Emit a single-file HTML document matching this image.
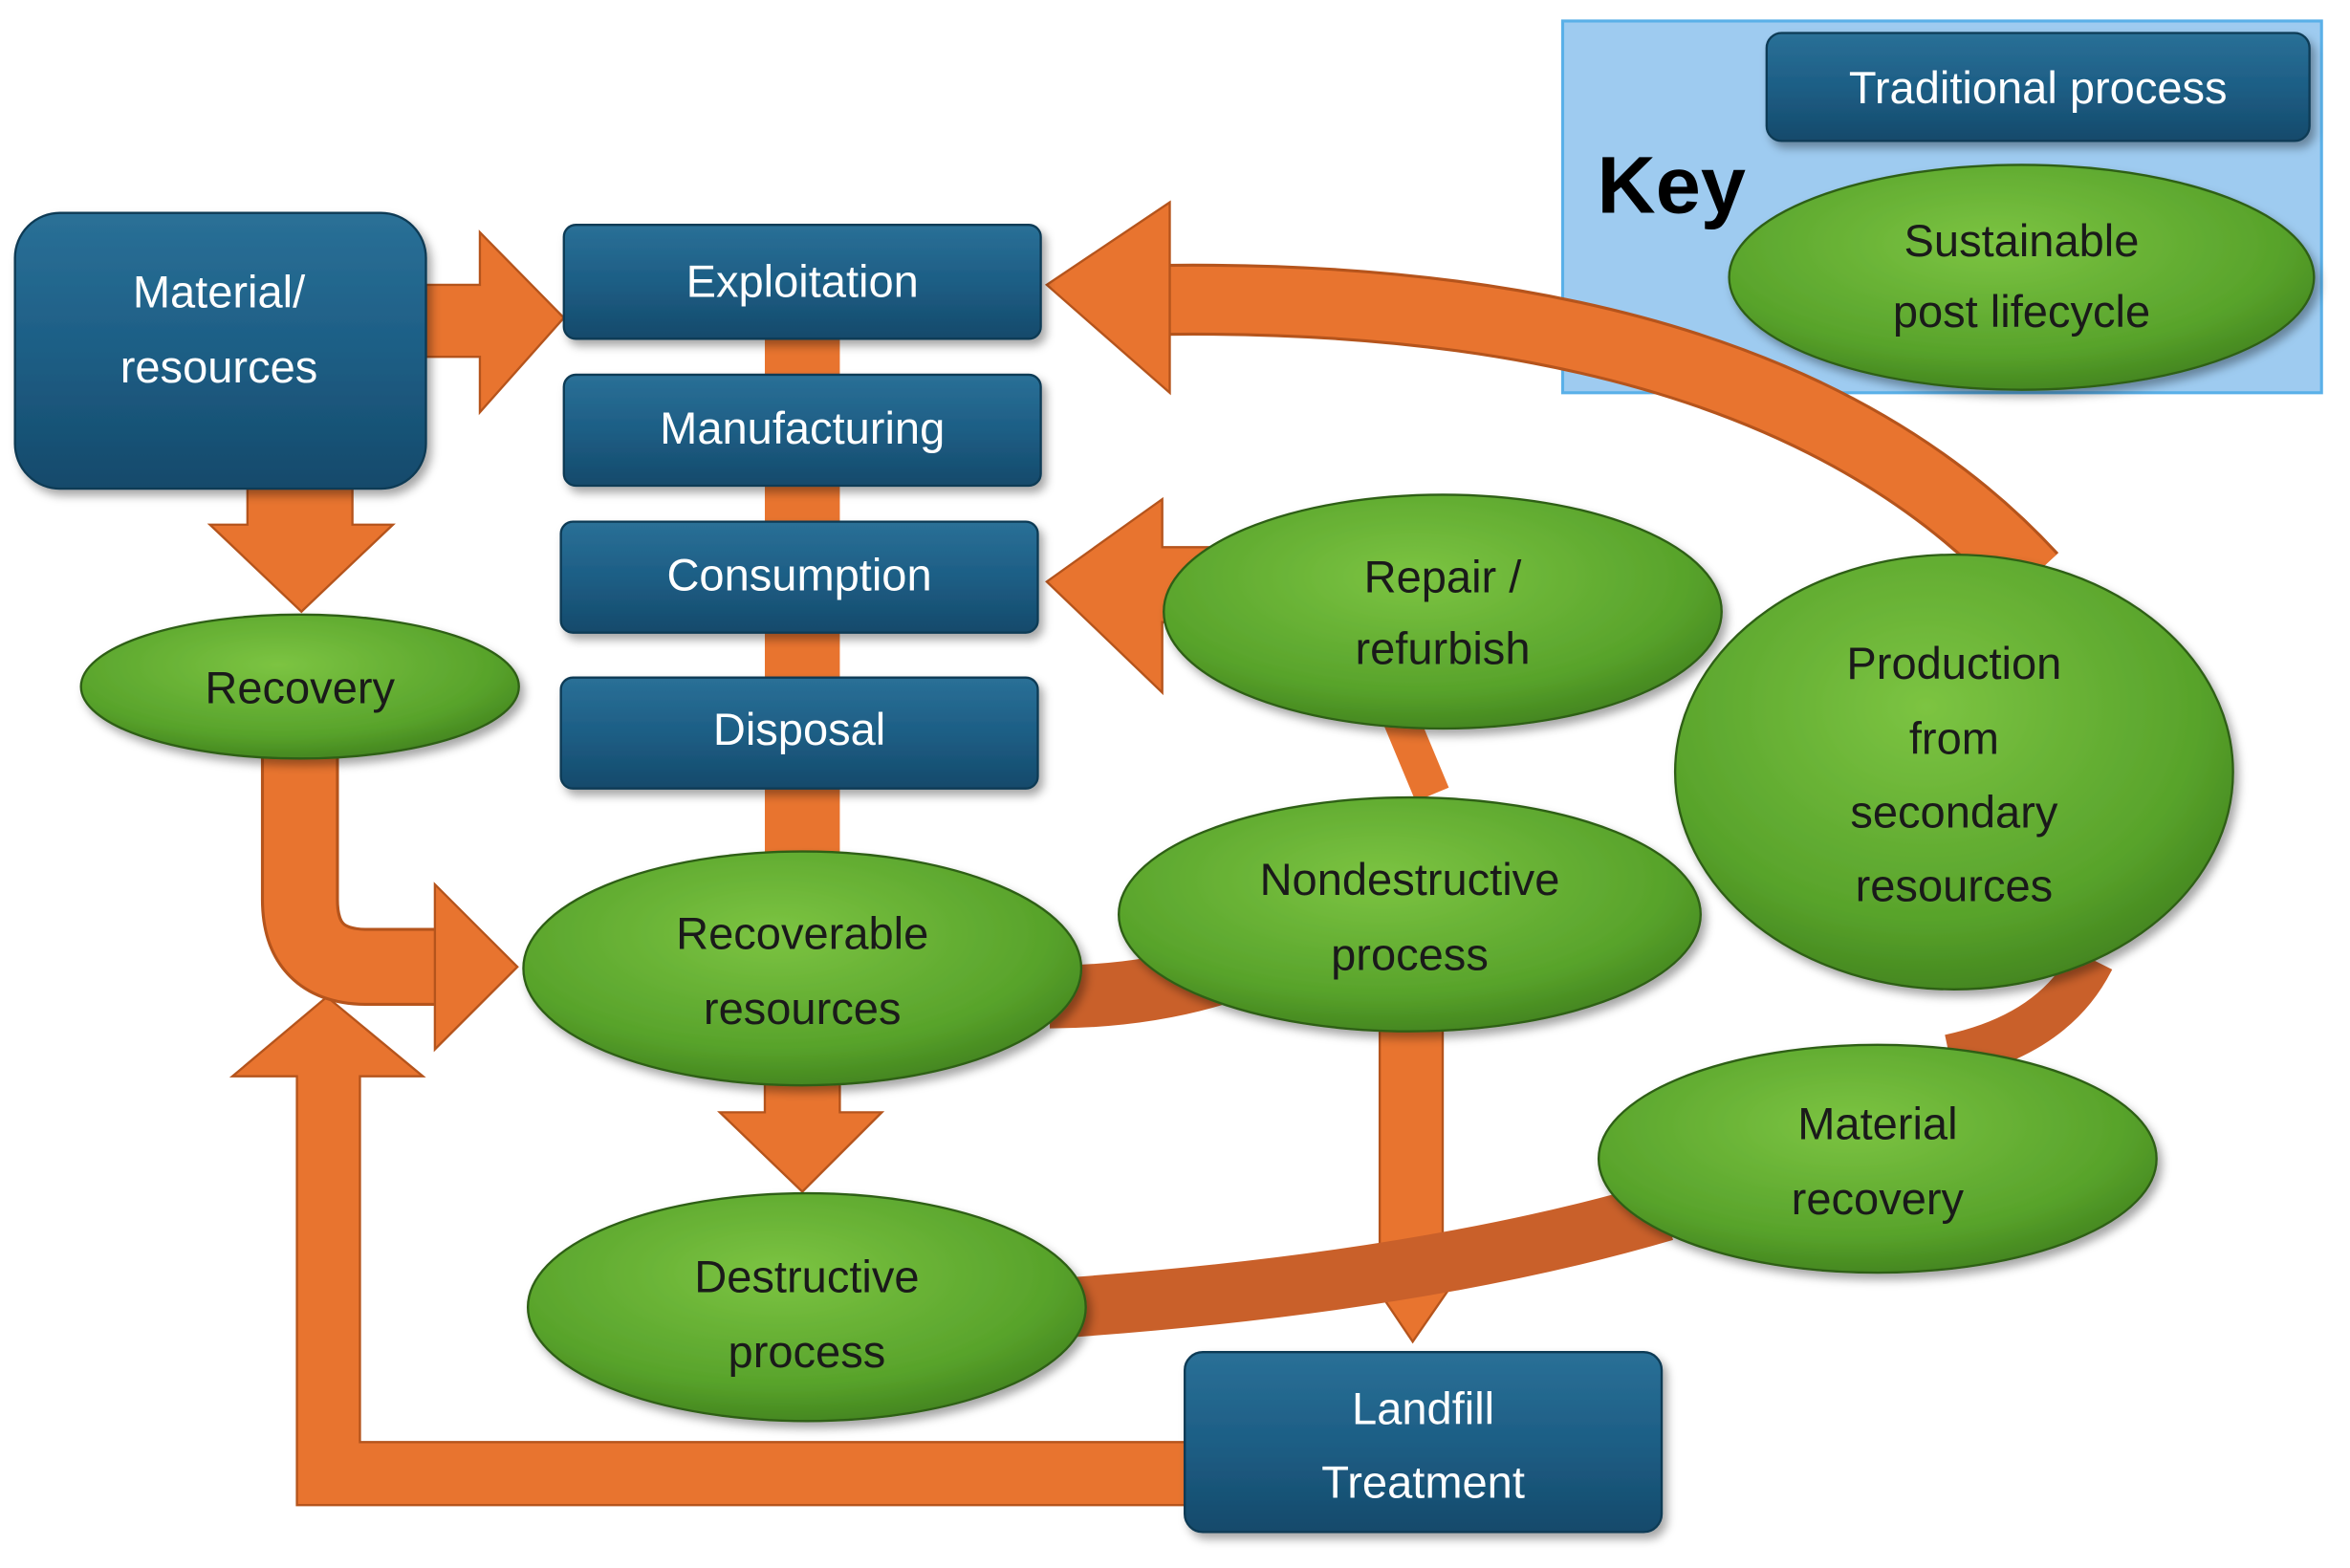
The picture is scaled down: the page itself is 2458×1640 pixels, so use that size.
<!DOCTYPE html>
<html><head><meta charset="utf-8"><style>
html,body{margin:0;padding:0;background:#fff;}
svg{display:block;}
text{font-family:"Liberation Sans",sans-serif;}
</style></head><body>
<svg width="2458" height="1640" viewBox="0 0 1567 1046" preserveAspectRatio="none" xmlns="http://www.w3.org/2000/svg">
<defs>
<linearGradient id="bl" x1="0" y1="0" x2="0" y2="1"><stop offset="0" stop-color="#2a7097"/><stop offset="0.5" stop-color="#1d5e85"/><stop offset="1" stop-color="#154a6b"/></linearGradient>
<radialGradient id="gr" cx="0.45" cy="0.35" r="0.7"><stop offset="0" stop-color="#7cc442"/><stop offset="0.7" stop-color="#58a32b"/><stop offset="1" stop-color="#3f7f1c"/></radialGradient>
<filter id="sh" x="-10%" y="-10%" width="130%" height="130%"><feDropShadow dx="3" dy="4" stdDeviation="3" flood-color="#000" flood-opacity="0.35"/></filter>
</defs>
<rect x="1042" y="14" width="506" height="248" fill="#9ecbf0" stroke="#5ab0e8" stroke-width="2"/>
<g fill="#e8742f" stroke="#b5541c" stroke-width="1.5">
<rect x="510" y="222" width="50" height="360" stroke="none"/>
<path d="M284,190 L320,190 L320,155 L376,212 L320,275 L320,238 L284,238 Z"/>
<path d="M165,326 L235,326 L235,350 L262,350 L201,408 L140,350 L165,350 Z"/>
<path d="M510,718 L560,718 L560,742 L588,742 L535,795 L480,742 L510,742 Z"/>
<path d="M920,685 L962,685 L962,840 L980,840 L942,895 L905,840 L920,840 Z"/>
<path d="M790,962 L240,962 L240,718 L282,718 L218,665 L155,718 L198,718 L198,1004 L790,1004 Z"/>
<path d="M775,365 L820,365 L820,415 L775,415 L775,462 L698,388 L775,333 Z"/>
</g>
<path d="M200,500 L200,600 Q200,645 245,645 L295,645" fill="none" stroke="#b5541c" stroke-width="52"/>
<path d="M200,500 L200,600 Q200,645 245,645 L295,645" fill="none" stroke="#e8742f" stroke-width="48"/>
<path d="M290,590 L345,645 L290,700 Z" fill="#e8742f" stroke="#b5541c" stroke-width="1.5"/>
<path d="M1355,385 Q1180,195 775,200" fill="none" stroke="#b5541c" stroke-width="48"/>
<path d="M1355,385 Q1180,195 775,200" fill="none" stroke="#e8742f" stroke-width="44"/>
<path d="M780,135 L698,190 L780,262 Z" fill="#e8742f" stroke="#b5541c" stroke-width="1.5"/>
<path d="M930,470 L955,530" stroke="#e8742f" stroke-width="24"/>
<path d="M700,665 Q760,665 810,650" fill="none" stroke="#c9602a" stroke-width="42"/>
<path d="M715,872 Q950,855 1110,808" fill="none" stroke="#c9602a" stroke-width="40"/>
<path d="M1395,640 Q1370,690 1300,705" fill="none" stroke="#c9602a" stroke-width="30"/>
<g fill="url(#bl)" stroke="#103a55" stroke-width="1.5" filter="url(#sh)">
<rect x="1178" y="22" width="362" height="72" rx="10"/>
<rect x="10" y="142" width="274" height="184" rx="30"/>
<rect x="376" y="150" width="318" height="76" rx="8"/>
<rect x="376" y="250" width="318" height="74" rx="8"/>
<rect x="374" y="348" width="318" height="74" rx="8"/>
<rect x="374" y="452" width="318" height="74" rx="8"/>
<rect x="790" y="902" width="318" height="120" rx="12"/>
</g>
<g fill="url(#gr)" stroke="#2f5f14" stroke-width="1.5" filter="url(#sh)">
<ellipse cx="1348" cy="185" rx="195" ry="75"/>
<ellipse cx="200" cy="458" rx="146" ry="48"/>
<ellipse cx="962" cy="408" rx="186" ry="78"/>
<ellipse cx="1303" cy="515" rx="186" ry="145"/>
<ellipse cx="940" cy="610" rx="194" ry="78"/>
<ellipse cx="535" cy="646" rx="186" ry="78"/>
<ellipse cx="1252" cy="773" rx="186" ry="76"/>
<ellipse cx="538" cy="872" rx="186" ry="76"/>
</g>
<text x="1065" y="142" font-size="54" font-weight="bold" fill="#000">Key</text>
<g fill="#fff" font-size="30" text-anchor="middle">
<text x="1359" y="69">Traditional process</text>
<text x="146" y="205">Material/</text>
<text x="146" y="255">resources</text>
<text x="535" y="198">Exploitation</text>
<text x="535" y="296">Manufacturing</text>
<text x="533" y="394">Consumption</text>
<text x="533" y="497">Disposal</text>
<text x="949" y="950">Landfill</text>
<text x="949" y="999">Treatment</text>
</g>
<g fill="#1a1a1a" font-size="30" text-anchor="middle">
<text x="1348" y="171">Sustainable</text>
<text x="1348" y="218">post lifecycle</text>
<text x="200" y="469">Recovery</text>
<text x="962" y="395">Repair /</text>
<text x="962" y="443">refurbish</text>
<text x="1303" y="453">Production</text>
<text x="1303" y="503">from</text>
<text x="1303" y="552">secondary</text>
<text x="1303" y="601">resources</text>
<text x="940" y="597">Nondestructive</text>
<text x="940" y="647">process</text>
<text x="535" y="633">Recoverable</text>
<text x="535" y="683">resources</text>
<text x="1252" y="760">Material</text>
<text x="1252" y="810">recovery</text>
<text x="538" y="862">Destructive</text>
<text x="538" y="912">process</text>
</g>
</svg>
</body></html>
